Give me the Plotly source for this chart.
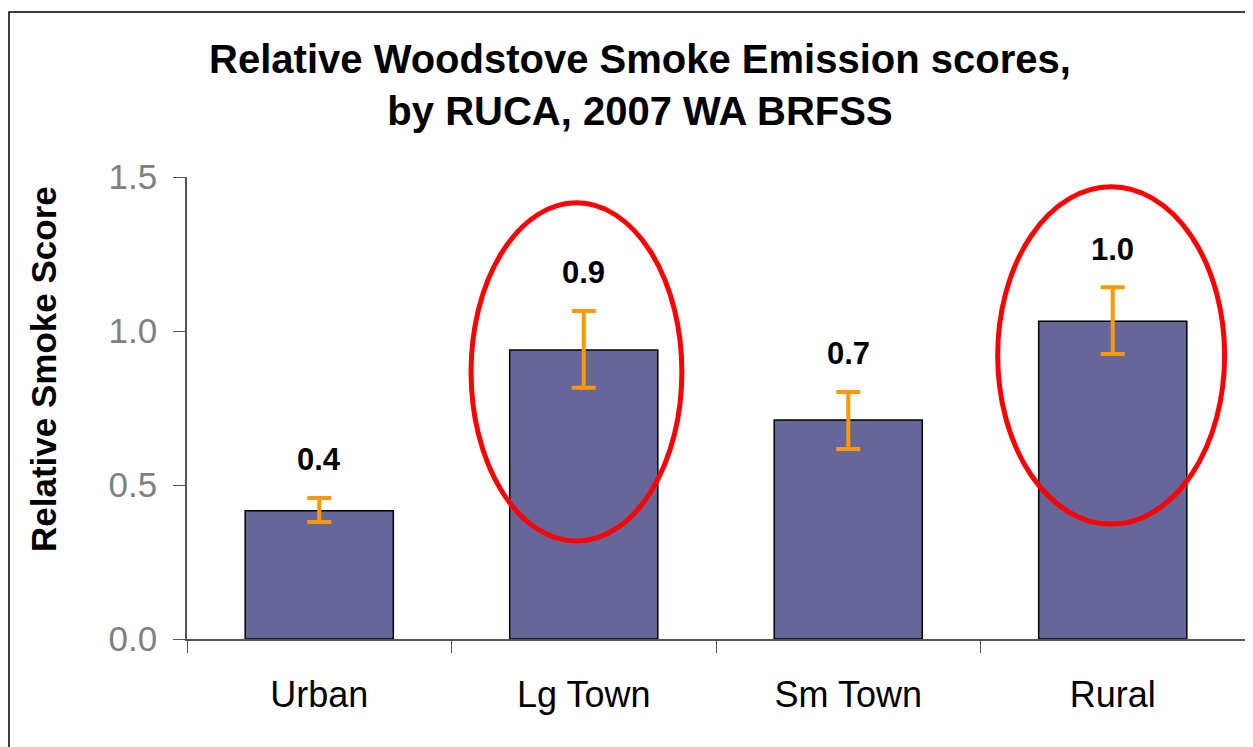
import plotly.graph_objects as go

# data
categories = ["Urban", "Lg Town", "Sm Town", "Rural"]
scores = [0.416, 0.938, 0.711, 1.032]
ci_upper = [0.458, 1.065, 0.802, 1.142]
ci_lower = [0.380, 0.816, 0.617, 0.925]
highlighted = ["Lg Town", "Rural"]

# page body has an 8px margin, so the figure is 8px smaller than the window
W, H = 1245, 739
M = dict(l=179, r=8, t=169, b=108)
FONT = "Liberation Sans, Arial, sans-serif"

err_plus = [u - s for u, s in zip(ci_upper, scores)]
err_minus = [s - l for s, l in zip(scores, ci_lower)]

fig = go.Figure()
fig.add_trace(go.Bar(
    x=categories, y=scores, width=0.56,
    marker=dict(color="#666699", line=dict(color="#000000", width=1.5)),
    error_y=dict(type="data", symmetric=False, array=err_plus, arrayminus=err_minus,
                 color="#FF9900", thickness=4, width=12),
    hoverinfo="skip",
))

# value labels above the error bars
for c, s, u in zip(categories, scores, ci_upper):
    fig.add_annotation(x=c, y=u, text=f"{s:.1f}", showarrow=False, yanchor="middle", yshift=38,
                       font=dict(family=FONT, size=31, color="black", weight="bold"))

# red ellipses around highlighted bars (offsets in category units / data units)
ellipse = {"Lg Town": (-0.426, 0.371, 0.318, 1.416), "Rural": (-0.435, 0.423, 0.373, 1.468)}
for c in highlighted:
    i = categories.index(c)
    dx0, dx1, y0, y1 = ellipse[c]
    fig.add_shape(type="circle", xref="x", yref="y", x0=i + dx0, x1=i + dx1, y0=y0, y1=y1,
                  line=dict(color="#FF0000", width=5))

# outer frame (top + left edges visible in the original)
pw, ph = W - M["l"] - M["r"], H - M["t"] - M["b"]
fx = (1 - M["l"]) / pw
fy = (H - M["b"] - 4) / ph
fig.add_shape(type="path", xref="paper", yref="paper",
              path=f"M {fx} -0.5 L {fx} {fy} L 1.2 {fy}",
              line=dict(color="#000000", width=1.5))

# y-axis title as annotation
fig.add_annotation(xref="paper", yref="paper", x=(35 - M["l"]) / pw, y=(H - M["b"] - 361) / ph,
                   text="Relative Smoke Score", textangle=-90, showarrow=False,
                   xanchor="center", yanchor="middle",
                   font=dict(family=FONT, size=35, color="black", weight="bold"))

fig.update_layout(
    width=W, height=H, margin=M,
    paper_bgcolor="white", plot_bgcolor="white", showlegend=False,
    title=dict(text="Relative Woodstove Smoke Emission scores,<br>by RUCA, 2007 WA BRFSS",
               xref="container", yref="container", x=632 / W, y=1 - 65 / H,
               xanchor="center", yanchor="middle",
               font=dict(family=FONT, size=40, color="black", weight="bold")),
    xaxis=dict(showline=True, linecolor="#555555", linewidth=1.5, ticks="outside", ticklen=12,
               tickcolor="#555555", tickson="boundaries", showgrid=False,
               tickfont=dict(family=FONT, size=36, color="black"), ticklabelstandoff=23),
    yaxis=dict(range=[0, 1.5], dtick=0.5, tickformat=".1f", showline=True, linecolor="#555555",
               linewidth=1.5, ticks="outside", ticklen=12, tickcolor="#555555", showgrid=False,
               zeroline=False, tickfont=dict(family=FONT, size=35, color="#808080"),
               ticklabelstandoff=9),
)

fig.write_html("out.html")
